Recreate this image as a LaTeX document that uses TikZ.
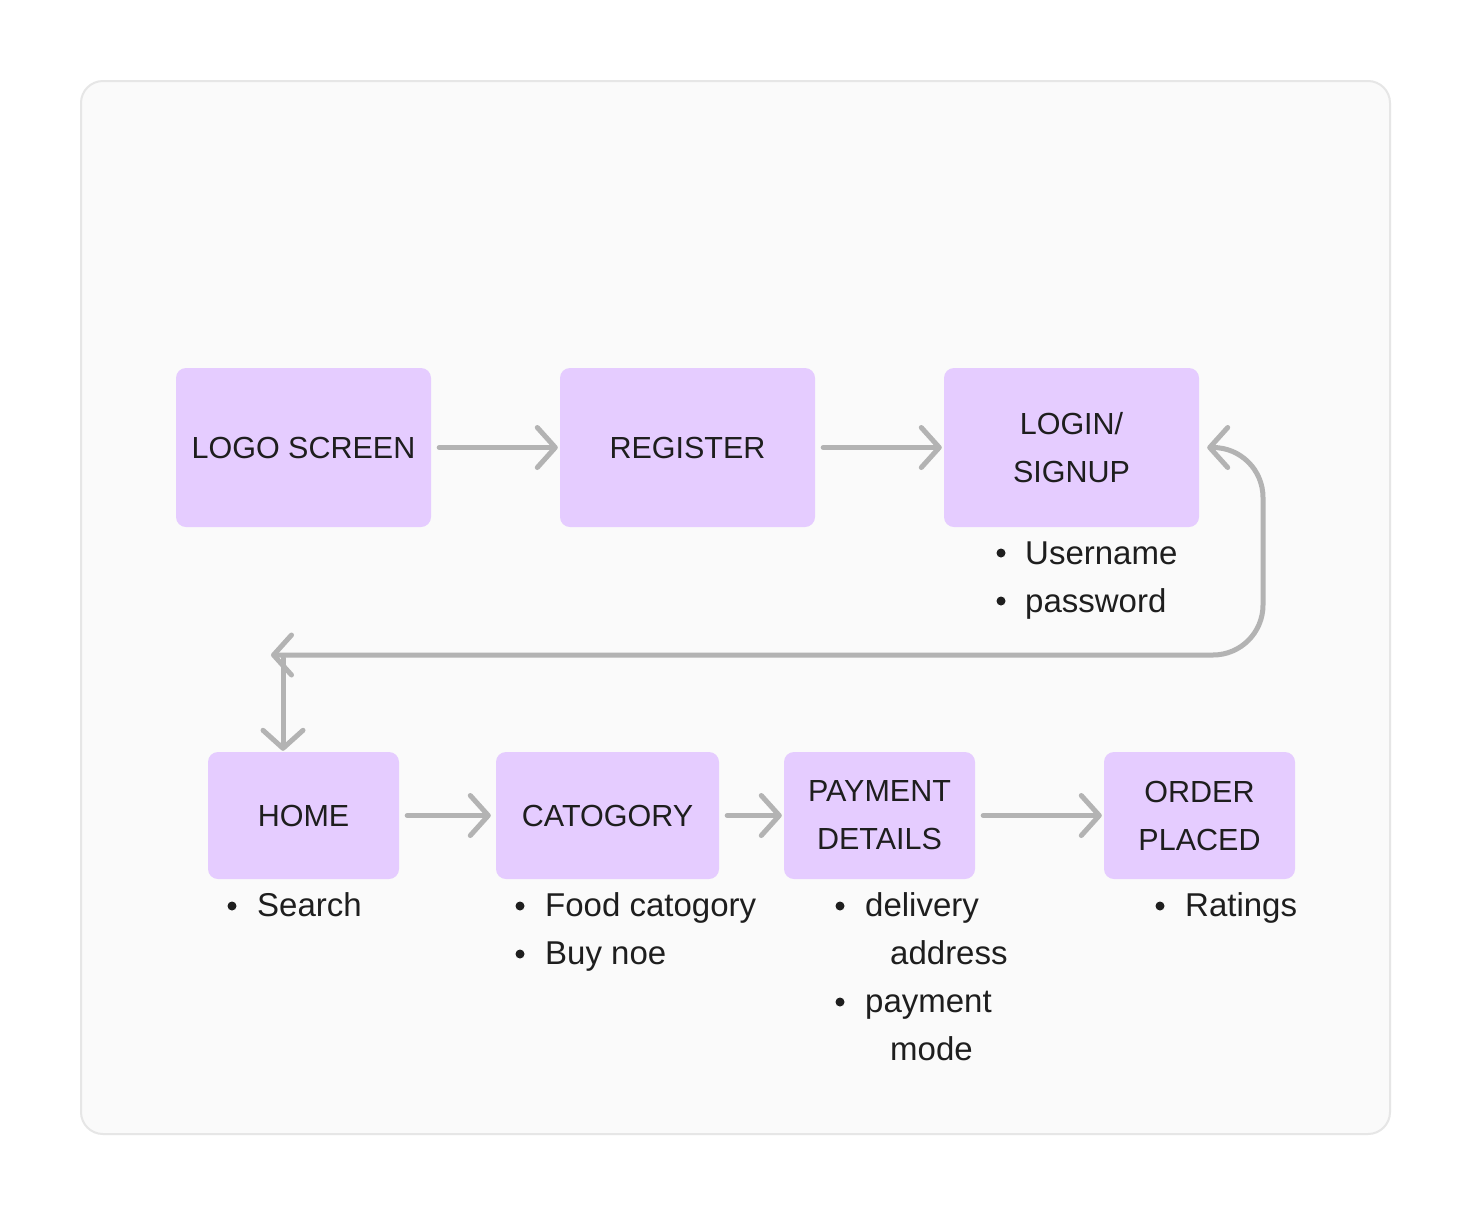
\documentclass[tikz,border=0pt]{standalone}
\usepackage{fontspec}
\setmainfont{Liberation Sans}
\usetikzlibrary{arrows.meta}
\definecolor{boxfill}{HTML}{E5CCFF}
\definecolor{ink}{HTML}{1E1E1E}
\definecolor{arrgray}{HTML}{B3B3B3}
\definecolor{framefill}{HTML}{FAFAFA}
\definecolor{frameline}{HTML}{E6E6E6}
\begin{document}
\begin{tikzpicture}[x=1pt,y=-1pt,
  box/.style={fill=boxfill, rounded corners=10pt, inner sep=0pt, align=center,
    font=\fontsize{30.5}{48}\selectfont, text=ink},
  arr/.style={draw=arrgray, line width=5pt, line cap=round, line join=round,
    -{Straight Barb[length=18pt,width=40pt,round]}},
  item/.style={anchor=base west, inner sep=0pt, font=\fontsize{33}{48}\selectfont, text=ink},
  dot/.style={fill=ink},
  frame/.style={fill=framefill, draw=frameline, line width=2pt, rounded corners=22pt}
]
\fill[white] (0,0) rectangle (1472,1216);
\useasboundingbox (0,0) rectangle (1472,1216);
\draw[frame] (81,81) rectangle (1390,1134);

% top row
\node[box, minimum width=255pt, minimum height=159pt] (logo) at (303.5,447.5) {LOGO SCREEN};
\node[box, minimum width=255pt, minimum height=159pt] (reg) at (687.5,447.5) {REGISTER};
\node[box, minimum width=255pt, minimum height=159pt] (login) at (1071.5,447.5) {LOGIN/\\SIGNUP};

% bottom row
\node[box, minimum width=191pt, minimum height=127pt] (home) at (303.5,815.5) {HOME};
\node[box, minimum width=223pt, minimum height=127pt] (cat) at (607.5,815.5) {CATOGORY};
\node[box, minimum width=191pt, minimum height=127pt] (pay) at (879.5,815.5) {PAYMENT\\DETAILS};
\node[box, minimum width=191pt, minimum height=127pt] (order) at (1199.5,815.5) {ORDER\\PLACED};

% connectors
\draw[arr, shorten <=8pt, shorten >=2pt] (logo) -- (reg);
\draw[arr, shorten <=8pt, shorten >=2pt] (reg) -- (login);
\draw[arr, shorten <=8pt, shorten >=5pt] (home) -- (cat);
\draw[arr, shorten <=8pt, shorten >=2pt] (cat) -- (pay);
\draw[arr, shorten <=8pt, shorten >=2pt] (pay) -- (order);

\coordinate (jl) at (271,655);
\coordinate (jv) at (283,658);
\draw[arr, {Straight Barb[length=18pt,width=40pt,round]}-{Straight Barb[length=18pt,width=40pt,round]}, rounded corners=50pt]
  (jl) -- (1263,655) -- (1263,447.5) -- ([xshift=8pt]login.east);
\draw[arr, shorten >=1pt] (jv) -- (jv |- home.north);

% bullet lists
\fill[dot] (1001,553) circle (4.5);
\node[item] (l1) at (1025,564) {Username};
\fill[dot] (1001,601) circle (4.5);
\node[item] (l2) at (1025,612) {password};

\fill[dot] (232,906) circle (4.5);
\node[item] (h1) at (257,916) {Search};

\fill[dot] (520,906) circle (4.5);
\node[item] (c1) at (545,916) {Food catogory};
\fill[dot] (520,954) circle (4.5);
\node[item] (c2) at (545,964) {Buy noe};

\fill[dot] (840,906) circle (4.5);
\node[item] (p1) at (865,916) {delivery};
\node[item] (p2) at (890,964) {address};
\fill[dot] (840,1002) circle (4.5);
\node[item] (p3) at (865,1012) {payment};
\node[item] (p4) at (890,1060) {mode};

\fill[dot] (1160,906) circle (4.5);
\node[item] (o1) at (1185,916) {Ratings};
\end{tikzpicture}
\end{document}
